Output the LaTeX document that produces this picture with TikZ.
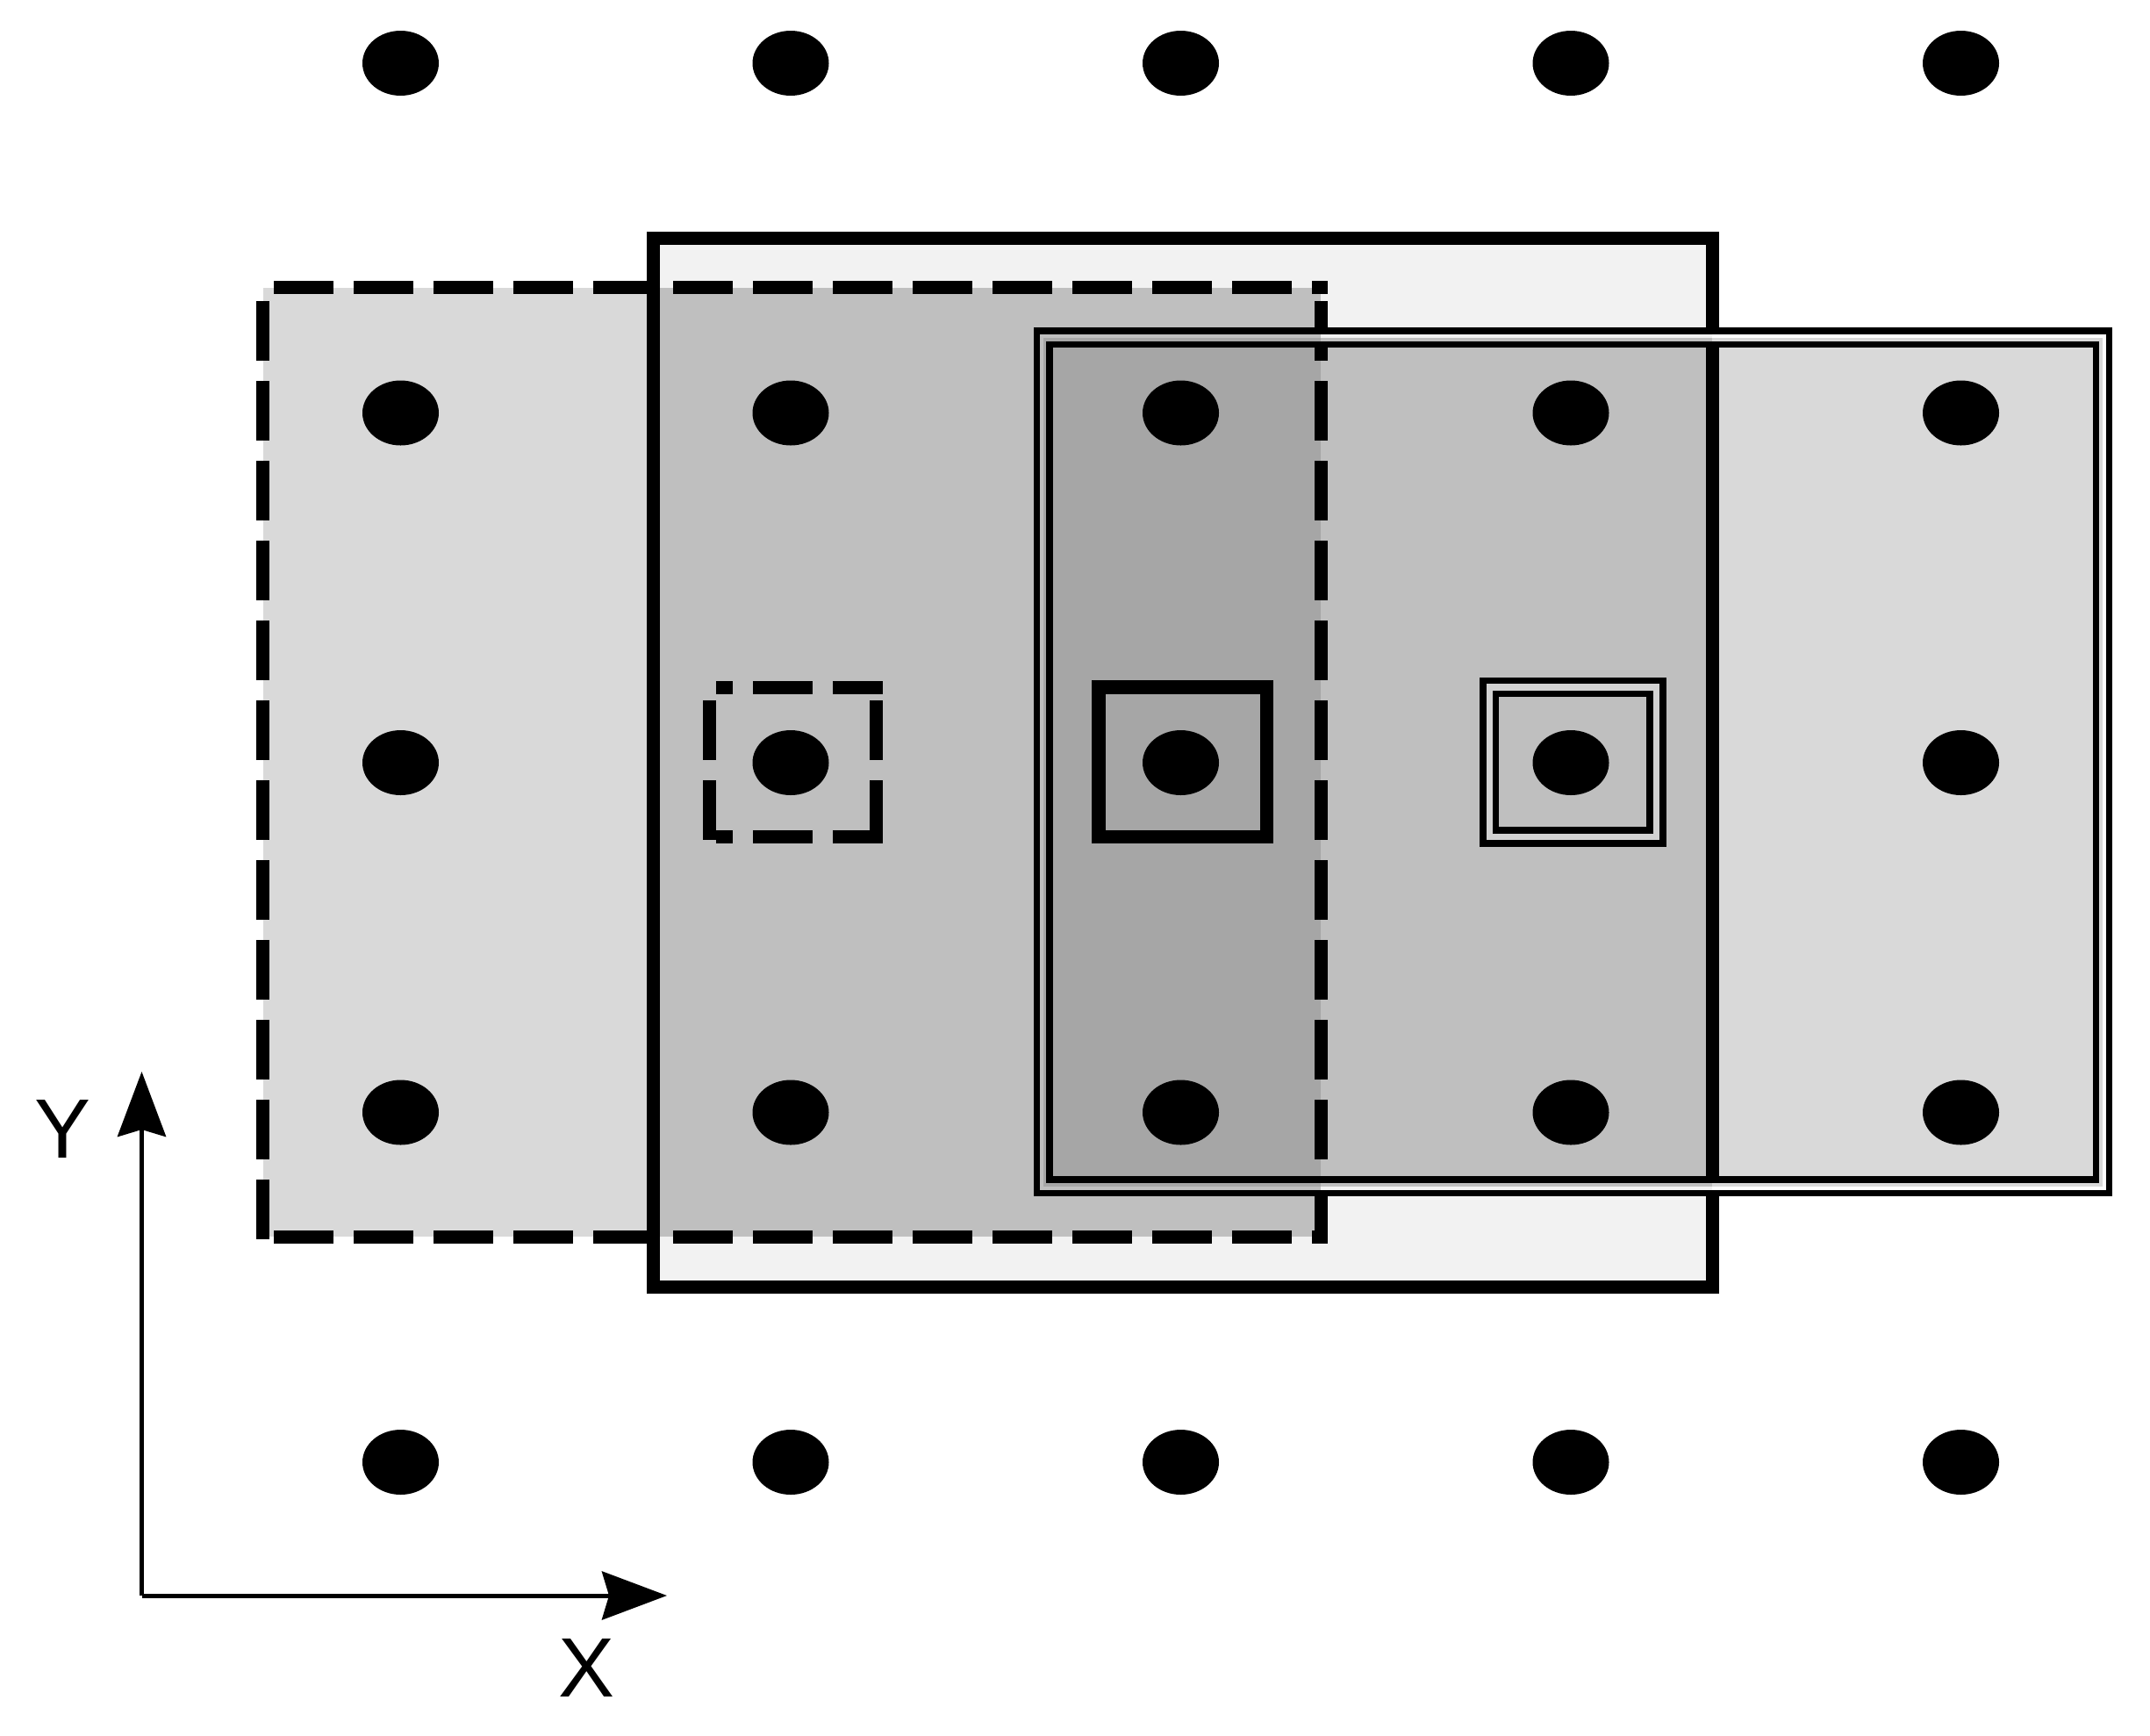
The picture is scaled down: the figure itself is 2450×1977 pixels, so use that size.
\documentclass[tikz,border=0pt]{standalone}
\usepackage{fontspec}
\newfontfamily\labfont{Liberation Sans}
\usetikzlibrary{arrows.meta}
\definecolor{cA}{HTML}{F2F2F2}
\definecolor{cB}{HTML}{D9D9D9}
\definecolor{cC}{HTML}{BFBFBF}
\definecolor{cD}{HTML}{A6A6A6}
\definecolor{cE}{HTML}{D2D2D2}
\begin{document}
\begin{tikzpicture}[x=0.5pt,y=-0.5pt,line join=miter,
  thickline/.style={line width=7.5pt},
  thinline/.style={line width=3.75pt},
  dashline/.style={line width=7.5pt,dash pattern=on 34pt off 11.5pt},
  axisline/.style={line width=2.5pt,-{Stealth[length=37pt,width=27.5pt,inset=4pt]}},
  axislabel/.style={font=\labfont\fontsize{48}{58}\selectfont,inner sep=0pt},
  dotfill/.style={fill=black}]
\useasboundingbox (0,0) rectangle (2450,1977);
% fills
\fill[cA] (744,271) rectangle (1951,1466);
\fill[cB] (299.5,327.5) rectangle (1505,1409);
\fill[cC] (744,327.5) rectangle (1505,1409);
\fill[cB] (1189,385) rectangle (2396,1352);
\fill[cC] (1189,385) rectangle (1951,1352);
\fill[cD] (1189,385) rectangle (1505,1352);
% solid rectangle
\draw[thickline] (744,271) rectangle (1951,1466);
% dashed rectangle
\draw[dashline,dash phase=39.25pt] (299.5,327.5) -- (1512.5,327.5);
\draw[dashline,dash phase=39.25pt] (299.5,1409) -- (1512.5,1409);
\draw[dashline,dash phase=37.75pt] (299.5,327.5) -- (299.5,1416.5);
\draw[dashline,dash phase=37.75pt] (1505,327.5) -- (1505,1416.5);
% patches in the gap of the double rectangle
\fill[cA] (1943.5,381) rectangle (1951,385);
\fill[white] (1951,381) rectangle (1958.5,385);
\fill[cC] (1943.5,385) rectangle (1951,389);
\fill[cB] (1951,385) rectangle (1958.5,389);
\fill[cC] (1943.5,1348) rectangle (1951,1352);
\fill[cB] (1951,1348) rectangle (1958.5,1352);
\fill[cA] (1943.5,1352) rectangle (1951,1356);
\fill[white] (1951,1352) rectangle (1958.5,1356);
\fill[cC] (1497.5,381) rectangle (1505,385);
\fill[cA] (1505,381) rectangle (1512.5,385);
\fill[cD] (1497.5,385) rectangle (1505,389);
\fill[cC] (1505,385) rectangle (1512.5,389);
\fill[cD] (1497.5,1348) rectangle (1505,1352);
\fill[cC] (1505,1348) rectangle (1512.5,1352);
\fill[cC] (1497.5,1352) rectangle (1505,1356);
\fill[cA] (1505,1352) rectangle (1512.5,1356);
% double rectangle
\draw[thinline] (1181.5,377) rectangle (2403.5,1359.5);
\draw[thinline] (1196,392.5) rectangle (2388.5,1344);
% small dashed square
\draw[thickline] (816,783) -- (835,783) (858,783) -- (926,783) (949,783) -- (1006,783);
\draw[thickline] (816,953.5) -- (835,953.5) (858,953.5) -- (926,953.5) (949,953.5) -- (1006,953.5);
\draw[thickline] (808,798) -- (808,866) (808,889) -- (808,957);
\draw[thickline] (998.5,798) -- (998.5,866) (998.5,889) -- (998.5,961);
% small solid square
\draw[line width=7.75pt] (1252,783) rectangle (1443.5,953.5);
% small double square
\filldraw[fill=cE,thinline] (1690,775.5) rectangle (1895,961);
\filldraw[fill=cC,thinline] (1704.5,790.5) rectangle (1880,946);
% dots
\foreach \x in {456.5,901,1345.5,1790,2234.5}
  \foreach \y in {72,470.5,869,1267.5,1666}
    \fill[dotfill] (\x,\y) ellipse [x radius=21.75pt,y radius=18.5pt];
% axes
\coordinate (O) at (161.5,1818);
\coordinate (XE) at (760,1818);
\coordinate (YE) at (161.5,1221);
\draw[axisline] (O) -- (XE);
\draw[axisline] (O) -- (YE);
\node[axislabel] (ylab) at (72,1286) {Y};
\node[axislabel] (xlab) at (669,1900) {X};
\end{tikzpicture}
\end{document}
